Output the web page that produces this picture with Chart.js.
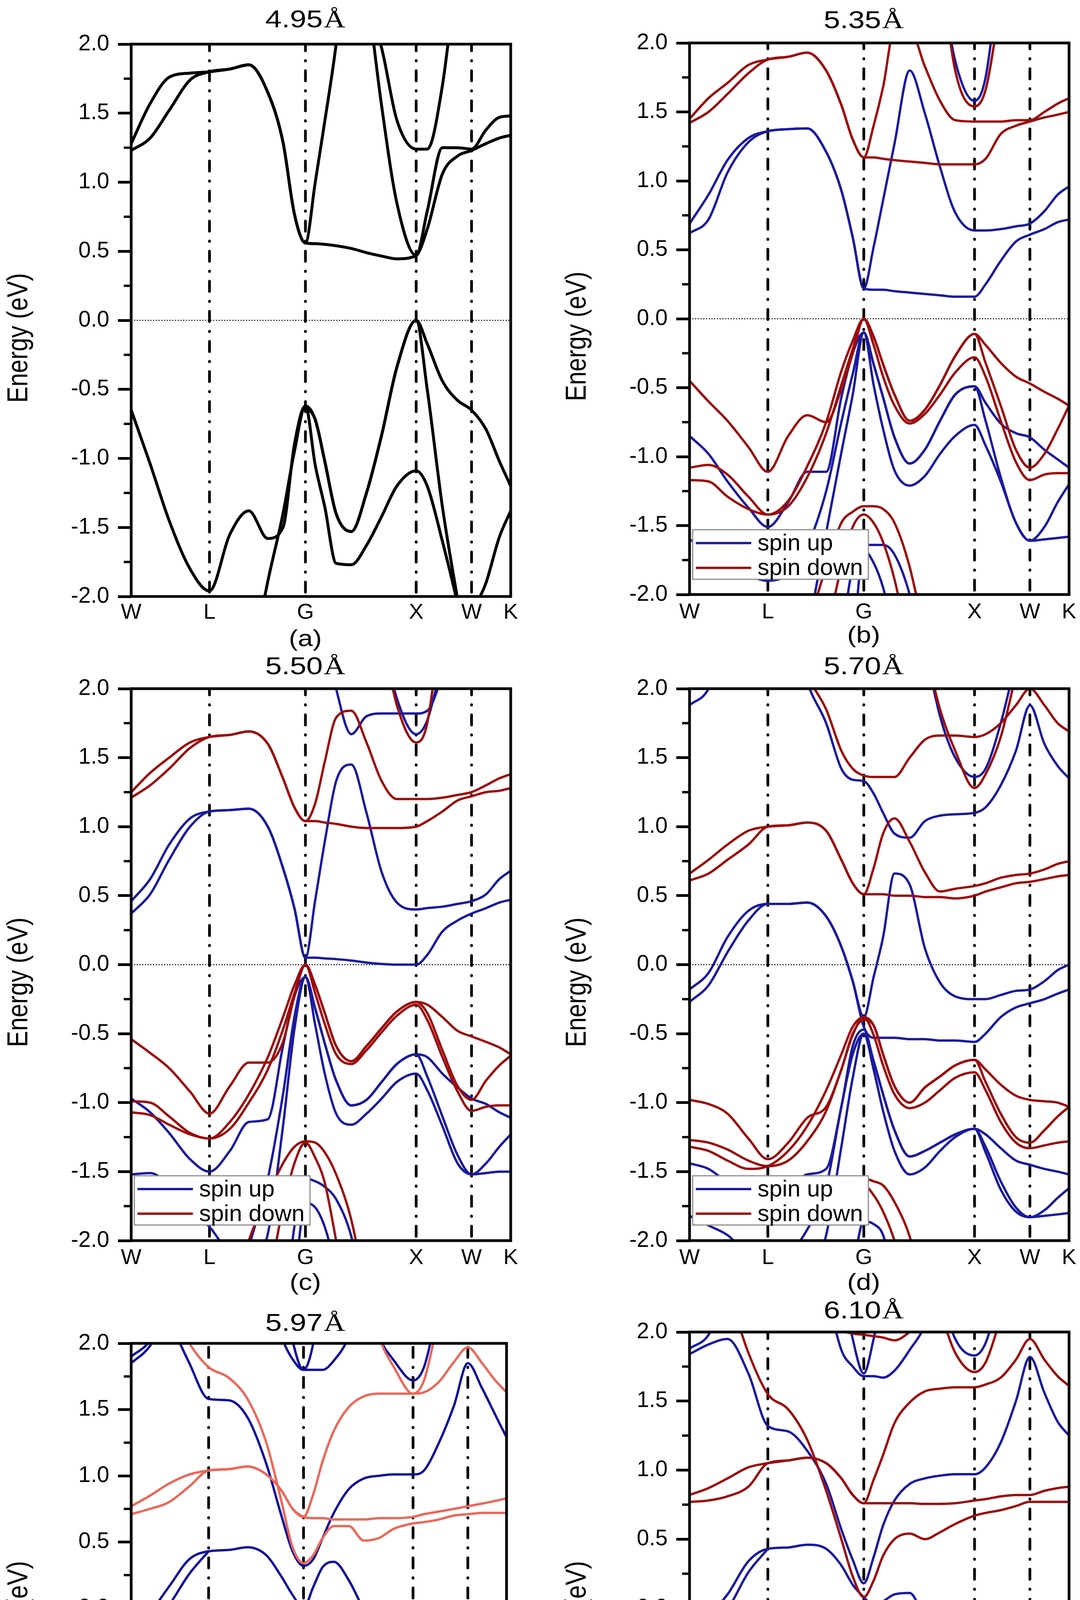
<!DOCTYPE html>
<html>
<head>
<meta charset="utf-8">
<title>Band structures</title>
<script src="https://cdn.jsdelivr.net/npm/chart.js@4.4.1/dist/chart.umd.min.js"></script>
<style>
  html, body { margin: 0; padding: 0; background: #fff; }
  body { position: relative; width: 2766px; height: 4970px; overflow: hidden; }
  canvas { position: absolute; }
</style>
</head>
<body>
<canvas id="pa"></canvas>
<canvas id="pb"></canvas>
<canvas id="pc"></canvas>
<canvas id="pd"></canvas>
<canvas id="pe"></canvas>
<canvas id="pf"></canvas>
<script>
// path W-L-G-X-W-K, as fraction of total path length
const kGrid = [0, 0.05, 0.10, 0.155, 0.2063, 0.26, 0.31, 0.36, 0.40, 0.43, 0.4591,
  0.485, 0.51, 0.54, 0.58, 0.62, 0.66, 0.70, 0.7509, 0.78, 0.82, 0.86, 0.8968, 0.935, 0.97, 1.0];
const kTicks = [0, 0.2063, 0.4591, 0.7509, 0.8968, 1];
const kLabels = ['W', 'L', 'G', 'X', 'W', 'K'];
const minorTicks = [-1.75, -1.25, -0.75, -0.25, 0.25, 0.75, 1.25, 1.75];

// put a short run of values at grid index i, rest of the band is absent
function at(i, vals) {
  const r = new Array(kGrid.length).fill(null);
  vals.forEach((v, j) => { r[i + j] = v; });
  return r;
}

// (a) 4.95 A
const aBands = [
  [1.23,1.32,1.52,1.74,1.80, 1.82,1.85,1.65,1.29,0.77,0.56, 0.555,0.55,0.54,0.52,0.49,0.465,0.445,0.47, 0.66,1.06,1.19,1.23, 1.28,1.32,1.34],
  [1.28,1.57,1.76,1.79,1.80, 1.82,1.85,1.65,1.29,0.77,0.56, 1.0,1.44,2.0,3.0,2.4,1.55,0.85,0.47, 0.79,1.25,1.25,1.24, 1.38,1.47,1.48],
  at(15, [2.3,1.97,1.45,1.24,1.24,1.7,2.6]),
  [-0.65,-1.04,-1.45,-1.8,-1.96, -1.55,-1.38,-1.58,-1.5,-0.9,-0.62, -0.72,-1.02,-1.40,-1.53,-1.25,-0.83,-0.34,0.0, -0.17,-0.44,-0.58,-0.65, -0.79,-1.02,-1.2],
  at(6, [-2.6,-1.89,-1.4,-0.95,-0.62, -1.05,-1.35,-1.76,-1.77,-1.63,-1.42,-1.2,-1.09, -1.2,-1.6,-2.05,-2.5]),
  at(10, [-0.62, -0.72,-1.02,-1.40,-1.53,-1.25,-0.83,-0.34,0.0, -0.5,-1.35,-2.02,-2.6]),
  at(21, [-2.6,-2.15,-1.9,-1.57,-1.38])
];

// (b) 5.35 A
const bUp = [
  [0.62,0.72,1.06,1.28,1.36, 1.375,1.38,1.21,0.93,0.59,0.22, 0.21,0.21,0.2,0.19,0.18,0.17,0.16,0.16, 0.25,0.42,0.56,0.61, 0.65,0.7,0.72],
  [0.69,0.9,1.15,1.31,1.36, 1.375,1.38,1.21,0.93,0.59,0.22, 0.52,0.86,1.27,1.8,1.49,1.1,0.77,0.64, 0.64,0.65,0.67,0.69, 0.78,0.9,0.96],
  at(16, [2.5,1.87,1.58,1.75,2.6]),
  [-0.85,-0.98,-1.18,-1.37,-1.51, -1.33,-1.11,-1.11,-0.57,-0.25,-0.1, -0.33,-0.57,-0.86,-1.05,-0.95,-0.74,-0.55,-0.49, -0.61,-0.76,-0.83,-0.86, -0.95,-1.02,-1.08],
  [-1.6,-1.68,-1.78,-1.86,-1.9, -1.85,-1.65,-1.25,-0.75,-0.4,-0.1, -0.48,-0.8,-1.1,-1.21,-1.14,-0.98,-0.85,-0.77, -0.92,-1.18,-1.48,-1.61, -1.51,-1.33,-1.2],
  at(6, [-2.3,-1.55,-0.97,-0.55,-0.1, -0.33,-0.57,-0.86,-1.05,-0.95,-0.74,-0.55,-0.49, -0.74,-1.15,-1.48,-1.61, -1.6,-1.59,-1.58]),
  at(8, [-2.3,-1.8,-1.64,-1.64,-1.64,-1.71,-2.0,-2.5]),
  at(9, [-2.4,-1.68,-1.77,-1.95,-2.3])
];
const bDown = [
  [1.42,1.5,1.63,1.78,1.88, 1.9,1.93,1.8,1.55,1.3,1.17, 1.17,1.16,1.15,1.14,1.13,1.12,1.12,1.12, 1.16,1.34,1.4,1.43, 1.46,1.48,1.5],
  [1.45,1.6,1.71,1.84,1.88, 1.9,1.93,1.8,1.55,1.3,1.17, 1.4,1.68,2.1,2.1,1.83,1.58,1.44,1.43, 1.43,1.43,1.44,1.44, 1.5,1.56,1.6],
  at(16, [2.6,1.8,1.54,1.66,2.3]),
  [-0.45,-0.6,-0.74,-0.93,-1.11, -0.85,-0.7,-0.75,-0.51,-0.25,0.0, -0.13,-0.33,-0.55,-0.74,-0.66,-0.48,-0.27,-0.11, -0.19,-0.32,-0.42,-0.47, -0.53,-0.58,-0.63],
  [-1.08,-1.06,-1.13,-1.29,-1.42, -1.32,-1.07,-0.75,-0.38,-0.16,0.0, -0.19,-0.42,-0.63,-0.76,-0.69,-0.55,-0.39,-0.28, -0.42,-0.74,-1.04,-1.17, -1.13,-1.12,-1.12],
  [-1.17,-1.18,-1.29,-1.38,-1.42, -1.36,-1.15,-0.83,-0.48,-0.22,0.0, -0.13,-0.33,-0.55,-0.74,-0.66,-0.48,-0.27,-0.11, -0.32,-0.63,-0.95,-1.08, -0.98,-0.8,-0.63],
  at(6, [-2.24,-1.8,-1.48,-1.4,-1.36,-1.36,-1.38,-1.48,-1.8,-2.3]),
  at(7, [-2.3,-1.8,-1.51,-1.42,-1.48,-1.62,-1.89,-2.4])
];

// (c) 5.50 A
const cUp = [
  [0.37,0.51,0.76,1.0,1.11, 1.12,1.13,1.0,0.7,0.41,0.05, 0.05,0.045,0.04,0.03,0.015,0.005,0.0,0.0, 0.07,0.24,0.32,0.37, 0.41,0.45,0.47],
  [0.46,0.62,0.87,1.06,1.11, 1.12,1.13,1.0,0.7,0.41,0.05, 0.47,0.89,1.33,1.45,1.1,0.67,0.45,0.4, 0.41,0.42,0.44,0.46, 0.51,0.62,0.68],
  at(12, [2.4,2.0,1.67,1.8,1.82,1.82,1.82,1.84,2.1,2.5]),
  at(16, [2.4,1.93,1.67,1.77,2.2]),
  [-0.97,-1.07,-1.22,-1.41,-1.5, -1.35,-1.14,-1.12,-0.59,-0.23,-0.09, -0.32,-0.57,-0.84,-1.02,-0.98,-0.85,-0.72,-0.65, -0.67,-0.79,-0.89,-0.97, -1.01,-1.07,-1.11],
  [-1.52,-1.51,-1.6,-1.78,-1.9, -2.1,-2.2,-1.95,-1.17,-0.47,-0.09, -0.44,-0.79,-1.08,-1.16,-1.08,-0.97,-0.85,-0.79, -0.91,-1.17,-1.44,-1.52, -1.44,-1.32,-1.23],
  at(5, [-2.6,-2.05,-1.55,-0.94,-0.38,-0.09, -0.32,-0.57,-0.84,-1.02,-0.98,-0.85,-0.72,-0.65, -0.81,-1.1,-1.38,-1.52, -1.51,-1.5,-1.5]),
  at(8, [-2.6,-1.9,-1.55,-1.57,-1.61,-1.7,-1.97,-2.5]),
  at(9, [-2.3,-1.73,-1.76,-1.9,-2.2])
];
const cDown = [
  [1.21,1.3,1.42,1.57,1.65, 1.665,1.69,1.6,1.35,1.14,1.04, 1.04,1.03,1.02,1.0,0.99,0.99,0.99,1.0, 1.04,1.11,1.19,1.22, 1.25,1.26,1.28],
  [1.25,1.39,1.5,1.61,1.65, 1.665,1.69,1.6,1.35,1.14,1.04, 1.17,1.47,1.79,1.84,1.61,1.33,1.2,1.2, 1.2,1.21,1.23,1.25, 1.3,1.35,1.38],
  at(16, [2.4,1.88,1.61,1.75,2.6]),
  [-0.54,-0.64,-0.75,-0.92,-1.08, -0.88,-0.71,-0.71,-0.56,-0.23,0.0, -0.15,-0.35,-0.59,-0.7,-0.59,-0.46,-0.34,-0.27, -0.29,-0.38,-0.48,-0.52, -0.56,-0.6,-0.65],
  [-0.99,-1.0,-1.1,-1.22,-1.26, -1.14,-0.94,-0.67,-0.38,-0.15,0.0, -0.21,-0.43,-0.65,-0.72,-0.62,-0.49,-0.37,-0.29, -0.4,-0.67,-0.92,-1.06, -1.03,-1.02,-1.02],
  [-1.07,-1.09,-1.16,-1.23,-1.26, -1.19,-1.0,-0.76,-0.47,-0.21,0.0, -0.15,-0.35,-0.59,-0.7,-0.59,-0.46,-0.34,-0.27, -0.35,-0.62,-0.88,-0.98, -0.84,-0.73,-0.66],
  at(5, [-2.5,-2.0,-1.67,-1.44,-1.32,-1.28,-1.29,-1.36,-1.52,-1.85,-2.4]),
  at(6, [-2.6,-2.3,-1.76,-1.44,-1.29,-1.4,-1.58,-2.0,-2.6])
];

// (d) 5.70 A
const dUp = [
  at(0, [1.88,2.0,2.4]),
  at(5, [2.6,2.05,1.75,1.42,1.34,1.33, 1.24,1.1,0.95,0.92,1.04,1.08,1.09,1.1, 1.14,1.3,1.55,1.88, 1.6,1.44,1.35]),
  at(15, [2.3,1.8,1.5,1.36,1.42,1.75,2.2]),
  [-0.18,-0.06,0.2,0.39,0.44, 0.44,0.45,0.35,0.13,-0.12,-0.38, -0.09,0.2,0.66,0.58,0.12,-0.13,-0.23,-0.25, -0.25,-0.22,-0.19,-0.18, -0.12,-0.04,0.0],
  [-0.27,-0.15,0.09,0.32,0.44, 0.44,0.45,0.35,0.13,-0.12,-0.45, -0.53,-0.53,-0.53,-0.54,-0.54,-0.55,-0.55,-0.56, -0.5,-0.38,-0.31,-0.28, -0.25,-0.21,-0.18],
  [-1.44,-1.48,-1.58,-1.67,-1.72, -1.64,-1.52,-1.48,-1.03,-0.59,-0.47, -0.7,-0.94,-1.2,-1.39,-1.35,-1.29,-1.23,-1.19, -1.23,-1.33,-1.42,-1.45, -1.48,-1.5,-1.52],
  [-1.82,-1.89,-1.96,-2.1,-2.15, -2.1,-1.92,-1.61,-1.03,-0.65,-0.5, -0.76,-1.06,-1.35,-1.52,-1.47,-1.35,-1.25,-1.19, -1.32,-1.57,-1.76,-1.83, -1.78,-1.69,-1.62],
  at(6, [-2.3,-1.96,-1.32,-0.82,-0.5, -0.7,-0.94,-1.2,-1.39,-1.35,-1.29,-1.23,-1.19, -1.36,-1.63,-1.79,-1.83, -1.82,-1.81,-1.8]),
  at(9, [-2.2,-1.86,-1.88,-1.96,-2.3])
];
const dDown = [
  [0.61,0.66,0.76,0.87,1.0, 1.01,1.03,0.97,0.76,0.59,0.51, 0.51,0.51,0.5,0.5,0.49,0.49,0.48,0.5, 0.53,0.56,0.59,0.6, 0.62,0.64,0.65],
  [0.66,0.76,0.87,0.97,1.0, 1.01,1.03,0.97,0.76,0.59,0.51, 0.7,0.95,1.06,0.89,0.67,0.53,0.55,0.57, 0.59,0.63,0.65,0.66, 0.69,0.73,0.75],
  at(5, [2.5,2.1,1.85,1.55,1.42,1.37, 1.36,1.36,1.36,1.5,1.63,1.66,1.66,1.65, 1.67,1.75,1.88,2.0, 1.88,1.75,1.69]),
  at(15, [2.3,1.85,1.55,1.28,1.38,1.65,2.1]),
  [-0.98,-1.01,-1.08,-1.26,-1.41, -1.29,-1.11,-1.03,-0.76,-0.5,-0.4, -0.44,-0.65,-0.88,-1.0,-0.89,-0.81,-0.73,-0.69, -0.76,-0.87,-0.95,-0.98, -0.99,-1.0,-1.03],
  [-1.27,-1.29,-1.34,-1.42,-1.46, -1.42,-1.28,-1.06,-0.76,-0.51,-0.38, -0.51,-0.73,-0.94,-1.04,-1.0,-0.91,-0.82,-0.78, -0.91,-1.14,-1.29,-1.33, -1.31,-1.29,-1.28],
  [-1.32,-1.35,-1.42,-1.48,-1.46, -1.35,-1.17,-0.91,-0.65,-0.45,-0.38, -0.44,-0.65,-0.88,-1.0,-0.89,-0.81,-0.73,-0.69, -0.85,-1.08,-1.25,-1.29, -1.2,-1.1,-1.03],
  at(8, [-1.8,-1.6,-1.55,-1.57,-1.6,-1.72,-1.97,-2.4]),
  at(9, [-1.8,-1.6,-1.67,-1.79,-2.0,-2.4])
];

// (e) 5.97 A
const eDown = [
  at(0, [1.9,2.02,2.3]),
  at(0, [1.85,1.98,2.25]),
  at(1, [2.6,2.2,1.85,1.58, 1.57,1.44,1.09,0.7,0.43,0.32, 0.37,0.53,0.72,0.9,0.98,1.0,1.01,1.01, 1.04,1.25,1.53,1.85, 1.66,1.46,1.29]),
  at(7, [2.4,2.05,1.88,1.8,1.8,1.8,1.87,2.05,2.4]),
  at(8, [2.5,2.02,1.8,2.0,2.5]),
  at(15, [2.4,2.05,1.87,1.72,1.82,2.3]),
  [-0.14,-0.03,0.16,0.37,0.43, 0.44,0.46,0.4,0.24,0.1,0.0, 0.16,0.31,0.35,0.21,-0.01,-0.17,-0.21,-0.21, -0.21,-0.18,-0.16,-0.14, -0.1,-0.06,-0.02],
  at(0, [-0.24,-0.15,0.02,0.26,0.43]),
  at(6, [-2.05,-1.52,-1.05,-0.67,-0.42, -0.42,-0.42,-0.42,-0.43,-0.43,-0.43,-0.44,-0.44, -0.4,-0.32,-0.28,-0.26, -0.21,-0.18,-0.16]),
  [-1.18,-1.19,-1.25,-1.39,-1.47, -1.36,-1.24,-1.16,-0.95,-0.65,-0.43, -0.64,-0.86,-1.02,-1.06,-1.05,-1.0,-0.96,-0.92, -0.95,-1.06,-1.14,-1.17, -1.17,-1.19,-1.2],
  [-1.4,-1.44,-1.47,-1.54,-1.58, -1.52,-1.36,-1.11,-0.79,-0.54,-0.43, -0.73,-0.99,-1.18,-1.19,-1.1,-1.05,-1.03,-1.0, -1.06,-1.25,-1.36,-1.4, -1.4,-1.4,-1.4],
  at(0, [-1.45,-1.49,-1.57,-1.68,-1.74,-1.85,-2.1]),
  at(10, [-0.43, -0.64,-0.86,-1.02,-1.06,-1.05,-1.0,-0.96,-0.92, -1.03,-1.24,-1.38,-1.44, -1.4,-1.35,-1.32]),
  at(7, [-1.7,-1.52,-1.46,-1.43,-1.44,-1.49,-1.65,-1.93,-2.4]),
  at(8, [-1.6,-1.5,-1.44,-1.52,-1.68,-1.93,-2.3])
];
const eUp = [
  [0.71,0.75,0.8,0.92,1.04, 1.05,1.07,1.01,0.89,0.75,0.69, 0.68,0.68,0.67,0.67,0.67,0.68,0.68,0.69, 0.71,0.73,0.75,0.77, 0.79,0.81,0.83],
  [0.77,0.85,0.94,1.01,1.04, 1.05,1.07,1.01,0.89,0.75,0.69, 0.86,1.11,1.34,1.52,1.6,1.62,1.62,1.62, 1.63,1.71,1.86,1.97, 1.85,1.72,1.63],
  at(1, [2.6,2.3,2.0,1.82, 1.74,1.58,1.25,0.81,0.46,0.34, 0.4,0.53,0.62,0.62,0.51,0.53,0.6,0.64, 0.65,0.67,0.7,0.71, 0.72,0.72,0.72]),
  at(15, [2.5,2.05,1.82,1.62,1.72,2.2]),
  [-0.66,-0.67,-0.73,-0.88,-0.91, -0.87,-0.76,-0.67,-0.48,-0.23,-0.03, -0.17,-0.36,-0.56,-0.69,-0.61,-0.48,-0.4,-0.37, -0.4,-0.53,-0.61,-0.66, -0.66,-0.66,-0.66],
  [-0.82,-0.83,-0.86,-0.9,-0.91, -0.85,-0.7,-0.48,-0.26,-0.1,-0.03, -0.23,-0.42,-0.59,-0.66,-0.62,-0.58,-0.54,-0.51, -0.56,-0.7,-0.81,-0.86, -0.84,-0.83,-0.83],
  [-0.86,-0.88,-0.92,-0.98,-1.02, -0.89,-0.76,-0.61,-0.39,-0.17,-0.03, -0.17,-0.36,-0.56,-0.69,-0.61,-0.48,-0.4,-0.37, -0.45,-0.62,-0.77,-0.82, -0.79,-0.72,-0.66],
  at(6, [-2.4,-1.93,-1.49,-1.21,-1.1,-1.11,-1.21,-1.4,-1.68,-2.0,-2.4]),
  at(7, [-2.4,-1.99,-1.46,-1.12,-1.21,-1.43,-1.71,-2.06,-2.5]),
  at(1, [-2.3,-2.05,-1.99,-1.96,-1.9,-1.8,-1.85,-2.2])
];

// (f) 6.10 A
const fUp = [
  at(0, [1.88,1.98,2.3]),
  [1.84,1.91,1.95,1.7,1.32, 1.28,1.14,0.9,0.57,0.35,0.18, 0.37,0.6,0.78,0.9,0.94,0.96,0.97,0.97, 1.02,1.2,1.5,1.82, 1.56,1.35,1.25],
  at(7, [2.3,1.87,1.75,1.68,1.68,1.67,1.72,1.87,2.05,2.4]),
  at(8, [2.4,1.95,1.7,1.95,2.3]),
  at(16, [2.3,1.95,1.83,1.92,2.3]),
  [-0.14,-0.05,0.1,0.34,0.43, 0.44,0.46,0.43,0.31,0.17,0.08, 0.02,0.05,0.1,0.11,-0.07,-0.18,-0.21,-0.21, -0.21,-0.19,-0.17,-0.15, -0.09,-0.05,-0.02],
  at(0, [-0.22,-0.16,-0.01,0.26,0.43]),
  at(5, [-2.1,-1.61,-1.09,-0.7,-0.49,-0.39, -0.39,-0.4,-0.4,-0.4,-0.41,-0.41,-0.42,-0.42, -0.38,-0.31,-0.26,-0.22, -0.18,-0.16,-0.15]),
  [-1.08,-1.09,-1.14,-1.26,-1.34, -1.28,-1.11,-0.99,-0.7,-0.49,-0.39, -0.52,-0.7,-0.85,-0.94,-0.93,-0.87,-0.84,-0.82, -0.85,-0.93,-0.99,-1.02, -1.03,-1.04,-1.05],
  [-1.25,-1.29,-1.38,-1.44,-1.43, -1.41,-1.29,-1.09,-0.79,-0.55,-0.39, -0.58,-0.82,-1.0,-1.08,-1.04,-0.97,-0.94,-0.93, -1.0,-1.15,-1.26,-1.3, -1.28,-1.26,-1.25],
  [-1.29,-1.32,-1.41,-1.45,-1.43, -1.43,-1.35,-1.18,-0.88,-0.61,-0.39, -0.52,-0.7,-0.85,-0.94,-0.93,-0.87,-0.84,-0.82, -0.97,-1.12,-1.22,-1.25, -1.23,-1.21,-1.19],
  at(6, [-2.3,-1.88,-1.46,-1.31,-1.26,-1.27,-1.29,-1.4,-1.67,-2.0,-2.3]),
  at(7, [-2.2,-1.7,-1.36,-1.29,-1.35,-1.49,-1.73,-2.0,-2.4])
];
const fDown = [
  [0.77,0.78,0.81,0.88,1.05, 1.07,1.09,1.05,0.94,0.82,0.76, 0.76,0.76,0.76,0.76,0.755,0.755,0.76,0.78, 0.79,0.81,0.82,0.82, 0.85,0.87,0.88],
  [0.82,0.87,0.94,1.02,1.05, 1.07,1.09,1.05,0.94,0.82,0.76, 0.93,1.11,1.34,1.49,1.57,1.59,1.6,1.6, 1.62,1.67,1.8,1.95, 1.8,1.68,1.61],
  at(1, [2.6,2.3,1.85,1.55, 1.44,1.22,0.85,0.5,0.23,0.08, 0.2,0.38,0.5,0.54,0.5,0.55,0.61,0.67, 0.69,0.71,0.74,0.77, 0.77,0.77,0.77]),
  at(16, [2.15,1.85,1.71,1.78,2.1]),
  at(7, [2.2,2.02,1.99,1.98,1.97,1.96,1.94,2.0,2.1]),
  [-0.51,-0.51,-0.54,-0.66,-0.69, -0.66,-0.59,-0.51,-0.34,-0.13,-0.07, -0.1,-0.25,-0.46,-0.55,-0.49,-0.38,-0.28,-0.23, -0.3,-0.4,-0.48,-0.51, -0.51,-0.5,-0.49],
  [-0.62,-0.63,-0.65,-0.67,-0.69, -0.67,-0.58,-0.43,-0.24,-0.1,-0.07, -0.16,-0.34,-0.48,-0.54,-0.5,-0.46,-0.42,-0.4, -0.4,-0.52,-0.61,-0.66, -0.65,-0.65,-0.64],
  [-0.66,-0.67,-0.73,-0.81,-0.85, -0.81,-0.67,-0.49,-0.28,-0.13,-0.07, -0.1,-0.25,-0.46,-0.55,-0.49,-0.38,-0.28,-0.23, -0.45,-0.55,-0.61,-0.63, -0.6,-0.56,-0.52],
  at(5, [-2.3,-1.61,-1.28,-1.03,-0.96,-0.93,-0.94,-1.0,-1.09,-1.32,-1.58,-1.91,-2.3]),
  at(6, [-2.6,-1.76,-1.22,-1.03,-0.94,-1.0,-1.09,-1.23,-1.49,-1.82,-2.2]),
  at(20, [-2.4,-2.0,-1.88,-1.95,-2.1]),
  at(0, [-1.88,-1.92,-1.9,-2.1]),
  at(1, [-2.4,-2.1,-1.85,-1.75,-1.7,-1.8,-2.3])
];

const BLUE = '#1a1a9e', RED = '#9c0c0c', SALMON = '#ea6858', NAVY = '#10109a';

Chart.defaults.font.family = '"Liberation Sans", Arial, sans-serif';
Chart.defaults.color = '#000';

const panels = [
  { id: 'pa', l: 336, t: 113, b: 1527, title: '4.95', titleB: -43, sub: '(a)', subY: 110, xPad: 0,
    series: [{ bands: aBands, color: '#000', width: 7.5 }], legend: null },
  { id: 'pb', l: 1766, t: 110, b: 1522, title: '5.35', titleB: -38, sub: '(b)', subY: 106, xPad: 4,
    series: [{ bands: bDown, color: RED }, { bands: bUp, color: BLUE }],
    legend: { items: [['spin up', BLUE], ['spin down', RED]], bottom: 39, h: 127 } },
  { id: 'pc', l: 336, t: 1763, b: 3176, title: '5.50', titleB: -37, sub: '(c)', subY: 109, xPad: 3,
    series: [{ bands: cDown, color: RED }, { bands: cUp, color: BLUE }],
    legend: { items: [['spin up', BLUE], ['spin down', RED]], bottom: 40, h: 126 } },
  { id: 'pd', l: 1766, t: 1763, b: 3176, title: '5.70', titleB: -37, sub: '(d)', subY: 109, xPad: 3,
    series: [{ bands: dDown, color: RED }, { bands: dUp, color: BLUE }],
    legend: { items: [['spin up', BLUE], ['spin down', RED]], bottom: 40, h: 126 } },
  { id: 'pe', l: 336, t: 3439, b: 4795, title: '5.97', titleB: -32, sub: '(e)', subY: 100, xPad: 14,
    series: [{ bands: eUp, color: SALMON }, { bands: eDown, color: NAVY }],
    legend: { items: [['spin down', NAVY], ['spin up', SALMON]], bottom: 36, h: 120 } },
  { id: 'pf', l: 1766, t: 3410, b: 4824, title: '6.10', titleB: -35, sub: '(f)', subY: 103, xPad: 1,
    series: [{ bands: fDown, color: RED }, { bands: fUp, color: BLUE }],
    legend: { items: [['spin up', BLUE], ['spin down', RED]], bottom: 43, h: 123 } }
];

function decor(p) {
  return {
    id: 'decor',
    afterDatasetsDraw(chart) {
      const { ctx, chartArea: a, scales: { y } } = chart;
      ctx.save();
      ctx.strokeStyle = '#000';
      ctx.fillStyle = '#000';
      // minor ticks
      ctx.lineWidth = 6;
      minorTicks.forEach(v => {
        const py = y.getPixelForValue(v);
        ctx.beginPath(); ctx.moveTo(a.left - 19, py); ctx.lineTo(a.left, py); ctx.stroke();
      });
      // frame
      ctx.lineWidth = 7;
      ctx.lineJoin = 'miter';
      ctx.strokeRect(a.left, a.top, a.right - a.left, a.bottom - a.top);

      // legend box
      if (p.legend) {
        const lg = p.legend, bx = a.left + 8, bw = 450, by = a.bottom - lg.bottom - lg.h;
        ctx.fillStyle = '#fff';
        ctx.fillRect(bx, by, bw, lg.h);
        ctx.strokeStyle = '#8c8c8c'; ctx.lineWidth = 3;
        ctx.strokeRect(bx, by, bw, lg.h);
        ctx.font = '60px "Liberation Sans"';
        ctx.textBaseline = 'middle'; ctx.textAlign = 'left';
        lg.items.forEach((it, i) => {
          const ly = by + lg.h * (i === 0 ? 0.27 : 0.77);
          ctx.strokeStyle = it[1]; ctx.lineWidth = 6;
          ctx.beginPath(); ctx.moveTo(bx + 8, ly); ctx.lineTo(bx + 150, ly); ctx.stroke();
          ctx.fillStyle = '#000';
          ctx.fillText(it[0], bx + 166, ly + 2);
        });
      }

      // title with angstrom sign, slightly widened like the source
      ctx.fillStyle = '#000';
      ctx.textBaseline = 'alphabetic'; ctx.textAlign = 'left';
      const fNum = '63px "Liberation Sans"', fA = '64px "Liberation Serif"';
      ctx.font = fNum; const w1 = ctx.measureText(p.title).width;
      ctx.font = fA; const w2 = ctx.measureText('\u00C5').width;
      ctx.save();
      ctx.translate(a.left + 446, a.top + p.titleB);
      ctx.scale(1.2, 1);
      const x0 = -(w1 + w2 + 2) / 2;
      ctx.font = fNum; ctx.fillText(p.title, x0, 0);
      ctx.font = fA; ctx.fillText('\u00C5', x0 + w1 + 2, 0);
      ctx.restore();

      // panel letter
      ctx.save();
      ctx.translate(a.left + 446, a.bottom + p.subY);
      ctx.scale(1.15, 1);
      ctx.font = '60px "Liberation Sans"';
      ctx.textAlign = 'center'; ctx.textBaseline = 'middle';
      ctx.fillText(p.sub, 0, 0);
      ctx.restore();

      // energy axis title (narrow face)
      ctx.translate(a.left - 287, (a.top + a.bottom) / 2 + 45);
      ctx.rotate(-Math.PI / 2);
      ctx.scale(0.83, 1);
      ctx.font = '75px "Liberation Sans"';
      ctx.textAlign = 'center'; ctx.textBaseline = 'middle';
      ctx.fillText('Energy (eV)', 0, 0);
      ctx.restore();
    }
  };
}

panels.forEach(p => {
  const cv = document.getElementById(p.id);
  const cx = p.l - 336, cy = p.t - 110;
  const w = p.l < 1000 ? 1330 : 2766 - cx;
  const h = (p.b - p.t) + 250;
  cv.width = w; cv.height = h;
  cv.style.left = cx + 'px'; cv.style.top = cy + 'px';
  cv.style.width = w + 'px'; cv.style.height = h + 'px';

  const datasets = [];
  p.series.forEach(s => s.bands.forEach(band => datasets.push({
    data: band.map((e, i) => ({ x: kGrid[i], y: e })),
    borderColor: s.color, borderWidth: s.width || 6,
    pointRadius: 0, cubicInterpolationMode: 'monotone',
    borderJoinStyle: 'round', spanGaps: false, clip: 0, order: 0
  })));
  // dash-dot lines at the inner high-symmetry points
  kTicks.slice(1, -1).forEach(k => datasets.push({
    data: [{ x: k, y: -2 }, { x: k, y: 2 }],
    borderColor: '#000', borderWidth: 7, borderDash: [26, 25, 1, 25], borderDashOffset: 66,
    borderCapStyle: 'round', pointRadius: 0, clip: 0, order: 1
  }));
  // Fermi level
  datasets.push({
    data: [{ x: 0, y: 0 }, { x: 1, y: 0 }],
    borderColor: '#000', borderWidth: 2.5, borderDash: [3, 4],
    pointRadius: 0, clip: 0, order: 2
  });

  new Chart(cv, {
    type: 'line',
    data: { datasets },
    options: {
      responsive: false, animation: false, devicePixelRatio: 1, events: [],
      layout: { padding: { left: 0, right: w - 336 - 972, top: 110, bottom: 0 } },
      plugins: { legend: { display: false }, tooltip: { enabled: false } },
      scales: {
        x: {
          type: 'linear', min: 0, max: 1, position: 'bottom',
          afterBuildTicks: s => { s.ticks = kTicks.map(v => ({ value: v })); },
          afterFit: s => { s.height = 140; },
          ticks: { autoSkip: false, maxRotation: 0, padding: p.xPad, font: { size: 56 },
                   callback: (v, i) => kLabels[i] },
          grid: { display: false }, border: { display: false }
        },
        y: {
          min: -2, max: 2, position: 'left',
          afterFit: s => { s.width = 336; },
          ticks: { stepSize: 0.5, padding: 22, font: { size: 57 }, callback: v => v.toFixed(1) },
          grid: { drawOnChartArea: false, drawTicks: true, tickLength: 34, tickWidth: 7, tickColor: '#000' },
          border: { display: false }
        }
      }
    },
    plugins: [decor(p)]
  });
});
</script>
</body>
</html>
